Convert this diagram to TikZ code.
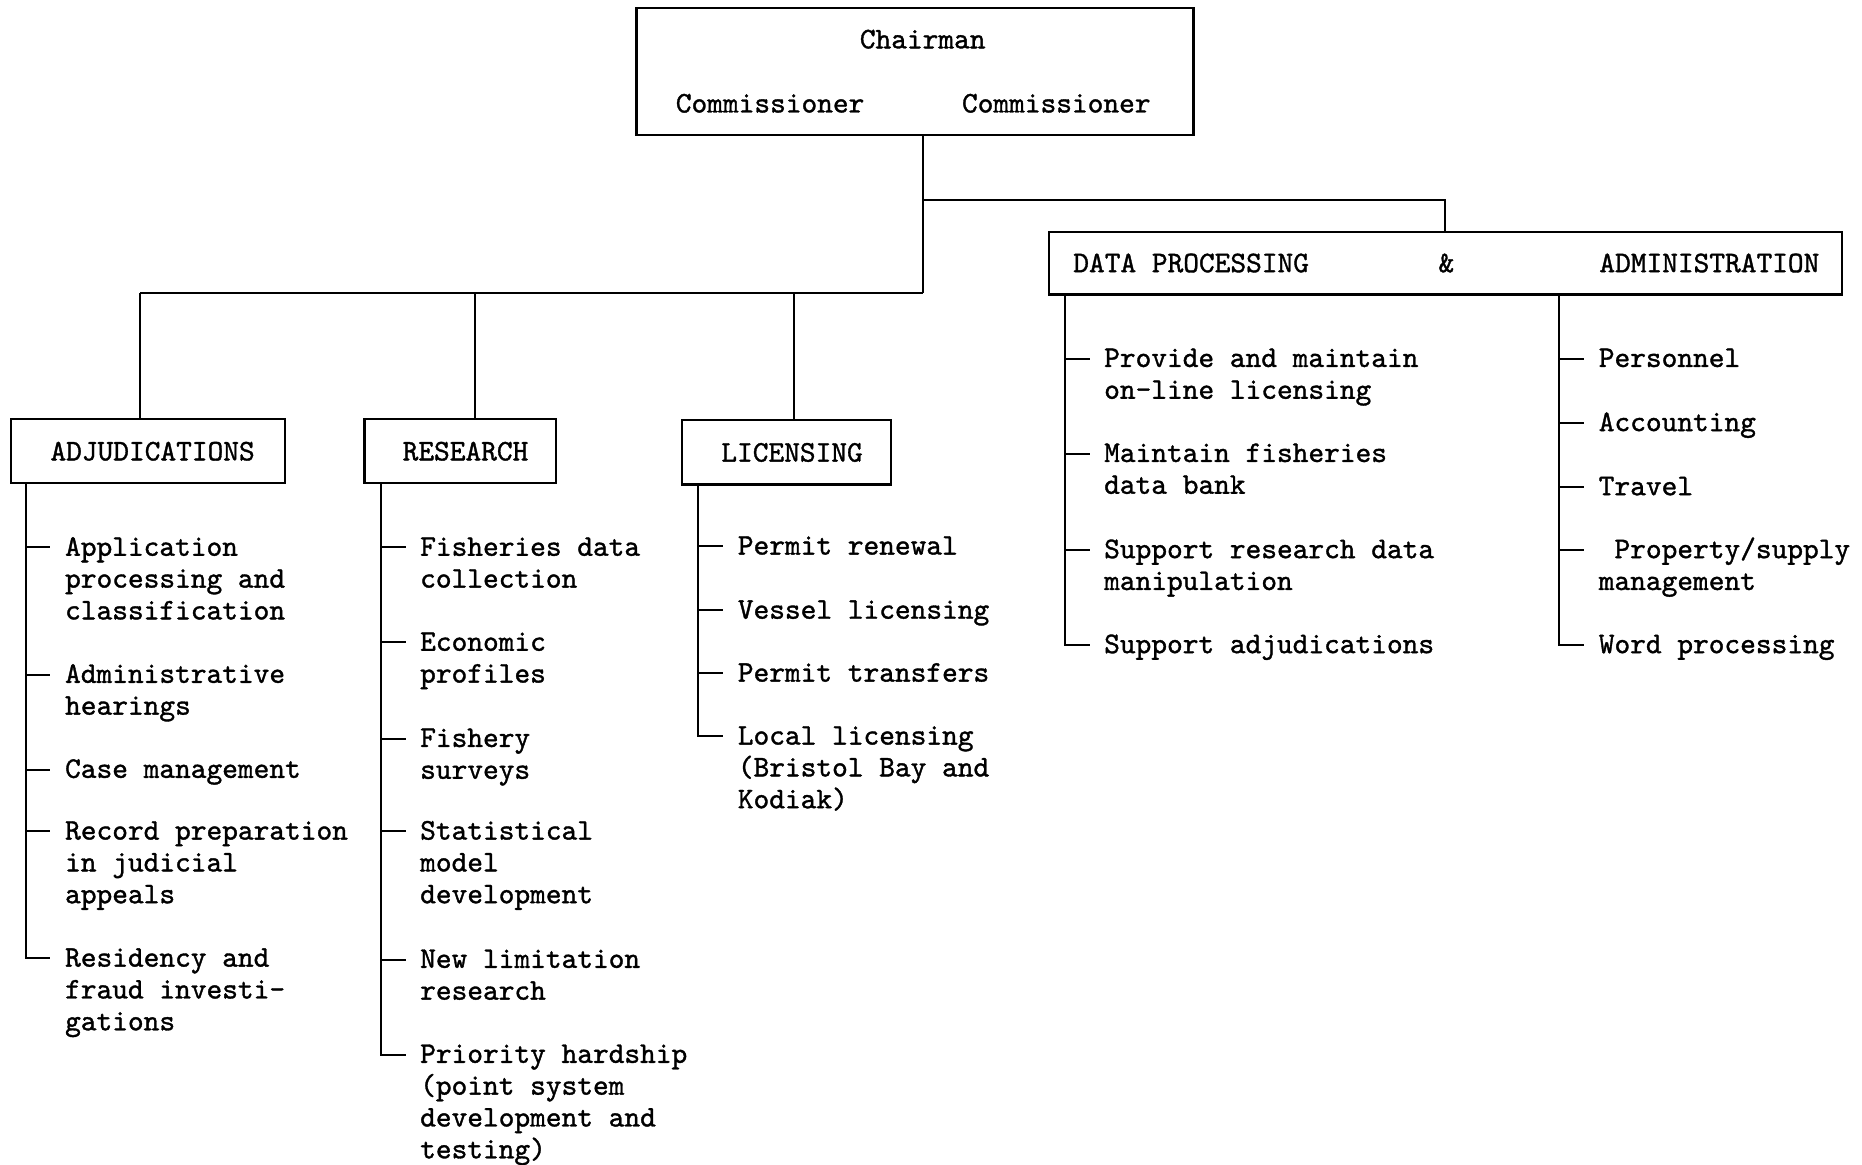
\documentclass[tikz,border=0pt]{standalone}
\usepackage{fontspec}
\newfontfamily\tw{lmmono10-regular.otf}[FakeBold=1.2]
\usetikzlibrary{calc}
\newcommand\fs{\tw\fontsize{12.6}{13.4}\selectfont}
\newcommand\tl[1]{\begin{tabular}[t]{@{}l@{}}#1\end{tabular}}
% name, x of vertical line, y of tick, text
\newcommand\litem[4]{%
  \coordinate (#1s) at (#2,#3);
  \coordinate (#1e) at (#2+21,#3);
  \node[itm] (#1) at (#2+32.5,#3+7) {\tl{#4}};}
\begin{document}
\begin{tikzpicture}[x=0.5pt,y=-0.5pt,line width=0.85pt,
  box/.style={draw,line width=0.9pt,inner sep=0pt},
  lbl/.style={inner sep=0pt,font=\fs},
  itm/.style={anchor=base west,inner sep=0pt,font=\fs}]
\useasboundingbox (0,0) rectangle (1568,981);

% boxes
\node[box,minimum width=234.5pt,minimum height=53.5pt] (chair) at (770.5,60.5) {};
\node[box,minimum width=334pt,minimum height=26.5pt] (dp) at (1217,221.5) {};
\node[box,minimum width=115.5pt,minimum height=27pt] (adj) at (124.5,380) {};
\node[box,minimum width=80.5pt,minimum height=27pt] (res) at (387.5,380) {};
\node[box,minimum width=88pt,minimum height=27pt] (lic) at (662,381) {};

% box texts
\node[lbl] (chairT) at (777,33) {Chairman};
\node[lbl] (comL) at (648.5,87) {Commissioner};
\node[lbl] (comR) at (889.5,87) {Commissioner};
\node[lbl,anchor=west] (dpT) at (903,221.5) {DATA PROCESSING};
\node[lbl] (ampT) at (1218,221.5) {\&};
\node[lbl,anchor=west] (admT) at (1346,221.5) {ADMINISTRATION};
\node[lbl] (adjT) at (128.5,380) {ADJUDICATIONS};
\node[lbl] (resT) at (392,380) {RESEARCH};
\node[lbl] (licT) at (667,381) {LICENSING};

% top connectors
\coordinate (jA) at (777,168);
\coordinate (jB) at (777,247);
\coordinate (dA) at (118,247);
\coordinate (dR) at (400,247);
\coordinate (dL) at (669,247);
\draw (chair.south -| jA) -- (jB);
\draw (jA) -| (dp.north);
\draw (dA) -- (jB);
\draw (dA) -- (adj.north -| dA);
\draw (dR) -- (res.north -| dR);
\draw (dL) -- (lic.north -| dL);

% ADJUDICATIONS list
\litem{a1}{21.5}{461}{Application\\processing and\\classification}
\litem{a2}{21.5}{568}{Administrative\\hearings}
\litem{a3}{21.5}{648}{Case management}
\litem{a4}{21.5}{700}{Record preparation\\in judicial\\appeals}
\litem{a5}{21.5}{807}{Residency and\\fraud investi-\\gations}
\draw (adj.south -| a5s) |- (a5e);
\foreach \i in {a1,a2,a3,a4} \draw (\i s) -- (\i e);

% RESEARCH list
\litem{r1}{320.5}{461}{Fisheries data\\collection}
\litem{r2}{320.5}{541}{Economic\\profiles}
\litem{r3}{320.5}{622}{Fishery\\surveys}
\litem{r4}{320.5}{700}{Statistical\\model\\development}
\litem{r5}{320.5}{808}{New limitation\\research}
\litem{r6}{320.5}{888}{Priority hardship\\(point system\\development and\\testing)}
\draw (res.south -| r6s) |- (r6e);
\foreach \i in {r1,r2,r3,r4,r5} \draw (\i s) -- (\i e);

% LICENSING list
\litem{l1}{588}{460}{Permit renewal}
\litem{l2}{588}{514}{Vessel licensing}
\litem{l3}{588}{567}{Permit transfers}
\litem{l4}{588}{620}{Local licensing\\(Bristol Bay and\\Kodiak)}
\draw (lic.south -| l4s) |- (l4e);
\foreach \i in {l1,l2,l3} \draw (\i s) -- (\i e);

% DATA PROCESSING list
\litem{d1}{896.5}{302}{Provide and maintain\\on-line licensing}
\litem{d2}{896.5}{382}{Maintain fisheries\\data bank}
\litem{d3}{896.5}{463}{Support research data\\manipulation}
\litem{d4}{896.5}{543}{Support adjudications}
\draw (dp.south -| d4s) |- (d4e);
\foreach \i in {d1,d2,d3} \draw (\i s) -- (\i e);

% ADMINISTRATION list
\litem{m1}{1313}{302}{Personnel}
\litem{m2}{1313}{356}{Accounting}
\litem{m3}{1313}{410}{Travel}
\litem{m4}{1313}{463}{\hphantom{x}Property/supply\\management}
\litem{m5}{1313}{543}{Word processing}
\draw (dp.south -| m5s) |- (m5e);
\foreach \i in {m1,m2,m3,m4} \draw (\i s) -- (\i e);
\end{tikzpicture}
\end{document}
